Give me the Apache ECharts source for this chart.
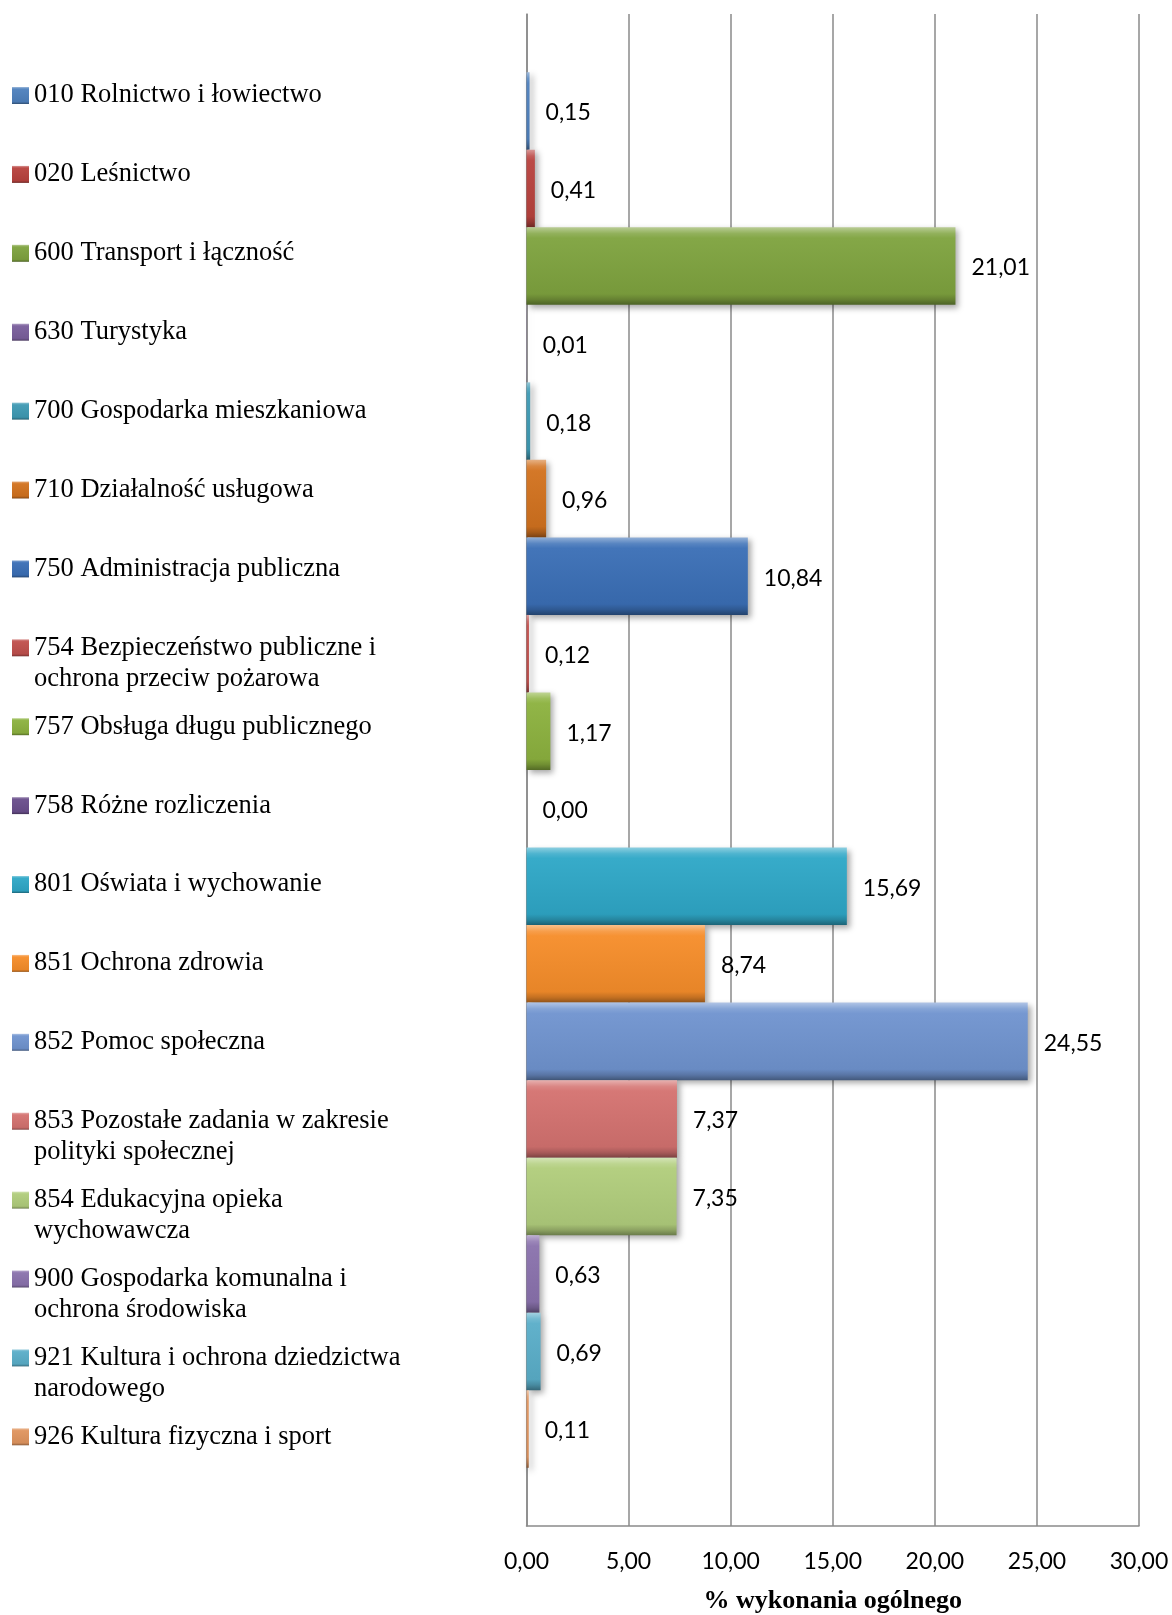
<!DOCTYPE html>
<html>
<head>
<meta charset="utf-8">
<script src="https://cdn.jsdelivr.net/npm/echarts@6/dist/echarts.min.js"></script>
<style>
  html, body { margin: 0; padding: 0; background: #fff; }
  #chart { width: 1172px; height: 1615px; }
</style>
</head>
<body>
<div id="chart"></div>
<script>
const categories = [
  "010 Rolnictwo i łowiectwo",
  "020 Leśnictwo",
  "600 Transport i łączność",
  "630 Turystyka",
  "700 Gospodarka mieszkaniowa",
  "710 Działalność usługowa",
  "750 Administracja publiczna",
  "754 Bezpieczeństwo publiczne i\nochrona przeciw pożarowa",
  "757 Obsługa długu publicznego",
  "758 Różne rozliczenia",
  "801 Oświata i wychowanie",
  "851 Ochrona zdrowia",
  "852 Pomoc społeczna",
  "853 Pozostałe zadania w zakresie\npolityki społecznej",
  "854 Edukacyjna opieka\nwychowawcza",
  "900 Gospodarka komunalna i\nochrona środowiska",
  "921 Kultura i ochrona dziedzictwa\nnarodowego",
  "926 Kultura fizyczna i sport"
];

const values = [0.15, 0.41, 21.01, 0.01, 0.18, 0.96, 10.84, 0.12, 1.17, 0.00,
                15.69, 8.74, 24.55, 7.37, 7.35, 0.63, 0.69, 0.11];

const colors = [
  "#4f81bd", "#b8423e", "#7fa33f", "#7a5f9c", "#3f9ab4", "#d2721f",
  "#3b6fb6", "#c0504d", "#8cb23f", "#6a4f8c", "#2fa7c7", "#f68d2b",
  "#7094cf", "#d47270", "#b1cd7c", "#8a72ad", "#5aaec9", "#e0955f"
];

const xTicks = { min: 0, max: 30, interval: 5 };

// mix a hex colour with white (t > 0) or black (t < 0)
const shade = (hex, t) => {
  const n = parseInt(hex.slice(1), 16);
  const ch = [(n >> 16) & 255, (n >> 8) & 255, n & 255].map(c =>
    Math.round(t > 0 ? c + (255 - c) * t : c * (1 + t)));
  return "rgb(" + ch.join(",") + ")";
};

// bevel-like fill across the bar thickness
const bevel = hex => new echarts.graphic.LinearGradient(0, 0, 0, 1, [
  { offset: 0, color: shade(hex, 0.45) },
  { offset: 0.08, color: shade(hex, 0.15) },
  { offset: 0.14, color: shade(hex, 0.04) },
  { offset: 0.86, color: shade(hex, -0.06) },
  { offset: 0.93, color: shade(hex, -0.2) },
  { offset: 1, color: shade(hex, -0.4) }
]);

const fmt = v => v.toFixed(2).replace(".", ",");

const legendTop = 95.5;   // centre of first legend line
const legendStep = 78.9;
const legendLine = 31;

const series = categories.map((name, i) => ({
  name: name,
  type: "bar",
  data: [values[i]],
  barGap: "0%",
  barCategoryGap: "7.7%",
  itemStyle: {
    color: bevel(colors[i]),
    shadowColor: "rgba(0,0,0,0.35)",
    shadowBlur: 6,
    shadowOffsetX: 3,
    shadowOffsetY: 3
  },
  label: {
    show: true,
    position: "right",
    distance: 16,
    offset: [0, 2],
    fontFamily: "Lato",
    fontSize: 23,
    color: "#000",
    formatter: p => fmt(p.value)
  },
  emphasis: { disabled: true }
}));

const legends = categories.map((name, i) => {
  const multi = name.includes("\n");
  return {
    data: [name],
    orient: "vertical",
    left: 12,
    top: legendTop + i * legendStep - legendLine / 2 - (multi ? legendLine : 0),
    padding: 0,
    icon: "rect",
    itemWidth: 17,
    itemHeight: 17,
    itemGap: 0,
    itemStyle: { shadowBlur: 0, shadowOffsetX: 0, shadowOffsetY: 0 },
    selectedMode: false,
    formatter: n => (n.includes("\n") ? "\n" + n : n),
    textStyle: {
      fontFamily: "Liberation Serif",
      fontSize: 26.5,
      lineHeight: legendLine,
      color: "#000"
    }
  };
});

const option = {
  animation: false,
  backgroundColor: "#fff",
  grid: { left: 526.5, right: 33, top: 14, bottom: 89, containLabel: false, outerBoundsMode: "none" },
  legend: legends,
  xAxis: {
    type: "value",
    min: xTicks.min,
    max: xTicks.max,
    interval: xTicks.interval,
    axisLine: { show: true, lineStyle: { color: "#8a8a8a", width: 1.5 } },
    axisTick: { show: false },
    splitLine: { show: true, lineStyle: { color: "#8a8a8a", width: 1.5 } },
    axisLabel: {
      margin: 24,
      fontFamily: "Lato",
      fontSize: 23,
      color: "#000",
      formatter: v => fmt(v)
    },
    name: "% wykonania ogólnego",
    nameLocation: "middle",
    nameGap: 62,
    nameTextStyle: {
      fontFamily: "Liberation Serif",
      fontWeight: "bold",
      fontSize: 26,
      color: "#000"
    }
  },
  yAxis: {
    type: "category",
    data: [""],
    axisLine: { show: true, lineStyle: { color: "#8a8a8a", width: 1.5 } },
    axisTick: { show: false },
    axisLabel: { show: false }
  },
  series: series
};

const myChart = echarts.init(document.getElementById("chart"));
myChart.setOption(option);
</script>
</body>
</html>
